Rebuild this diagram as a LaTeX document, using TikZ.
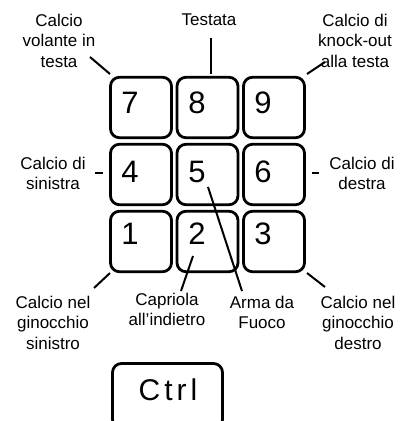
\documentclass[tikz,border=0pt]{standalone}
\usepackage{fontspec}
\setmainfont{Liberation Sans}
\begin{document}
\begin{tikzpicture}[x=1pt,y=-1pt,
  keybox/.style={draw, line width=2.8pt, rounded corners=9pt, minimum width=61pt, minimum height=60.5pt, inner sep=0pt},
  num/.style={font=\fontsize{31}{31}\selectfont, anchor=base, inner sep=0pt},
  lbl/.style={font=\fontsize{17}{20.5}\selectfont, anchor=base, inner sep=0pt},
  conn/.style={line width=2pt}]
\useasboundingbox (0,0) rectangle (405,421);
% keys
\node[keybox] (k7) at (141,107.5) {};
\node[keybox] (k8) at (207.5,107.5) {};
\node[keybox] (k9) at (274,107.5) {};
\node[keybox] (k4) at (141,174.5) {};
\node[keybox] (k5) at (207.5,174.5) {};
\node[keybox] (k6) at (274,174.5) {};
\node[keybox] (k1) at (141,241.5) {};
\node[keybox] (k2) at (207.5,241.5) {};
\node[keybox] (k3) at (274,241.5) {};
% numbers
\node[num] (n7) at (130,113) {7};
\node[num] (n8) at (197,113) {8};
\node[num] (n9) at (263,113) {9};
\node[num] (n4) at (130,182) {4};
\node[num] (n5) at (197,182) {5};
\node[num] (n6) at (263,182) {6};
\node[num] (n1) at (130,244) {1};
\node[num] (n2) at (197,244) {2};
\node[num] (n3) at (263,244) {3};
% ctrl key
\node[keybox, minimum width=110pt, minimum height=65pt] (kc) at (167.5,396) {};
\node[anchor=base, inner sep=0pt, font=\fontsize{30}{30}\selectfont] (tc) at (168,400) {C\kern4pt t\kern4pt r\kern4pt l};
% labels
\node[lbl] (lA) at (59,26) {\begin{tabular}[t]{@{}c@{}}Calcio\\volante in\\testa\end{tabular}};
\node[lbl] (lB) at (209,25) {Testata};
\node[lbl] (lC) at (355,26) {\begin{tabular}[t]{@{}c@{}}Calcio di\\knock-out\\alla testa\end{tabular}};
\node[lbl] (lD) at (53,169) {\begin{tabular}[t]{@{}c@{}}Calcio di\\sinistra\end{tabular}};
\node[lbl] (lE) at (362,169) {\begin{tabular}[t]{@{}c@{}}Calcio di\\destra\end{tabular}};
\node[lbl] (lF) at (53,308) {\begin{tabular}[t]{@{}c@{}}Calcio nel\\ginocchio\\sinistro\end{tabular}};
\node[lbl] (lG) at (167,305) {\begin{tabular}[t]{@{}c@{}}Capriola\\all’indietro\end{tabular}};
\node[lbl] (lH) at (262,308) {\begin{tabular}[t]{@{}c@{}}Arma da\\Fuoco\end{tabular}};
\node[lbl] (lI) at (358,308) {\begin{tabular}[t]{@{}c@{}}Calcio nel\\ginocchio\\destro\end{tabular}};
% connector ends
\coordinate (cA) at (90,57);   \coordinate (eA) at (110,74);
\coordinate (cB) at (211,38);  \coordinate (eB) at (211,74);
\coordinate (cC) at (325,62);  \coordinate (eC) at (307,74);
\coordinate (cD) at (95,173);  \coordinate (eD) at (103,173);
\coordinate (cE) at (319,173); \coordinate (eE) at (312,173);
\coordinate (cF) at (94,288);  \coordinate (eF) at (110,273);
\coordinate (cI) at (325,287); \coordinate (eI) at (307,273);
\coordinate (cG) at (181,291); \coordinate (eG) at (193,256);
\coordinate (cH) at (242,291); \coordinate (eH) at (208,187);
\draw[conn] (cA) -- (eA);
\draw[conn] (cB) -- (eB);
\draw[conn] (cC) -- (eC);
\draw[conn] (cD) -- (eD);
\draw[conn] (cE) -- (eE);
\draw[conn] (cF) -- (eF);
\draw[conn] (cI) -- (eI);
\draw[conn] (cG) -- (eG);
\draw[conn] (cH) -- (eH);
\end{tikzpicture}
\end{document}
